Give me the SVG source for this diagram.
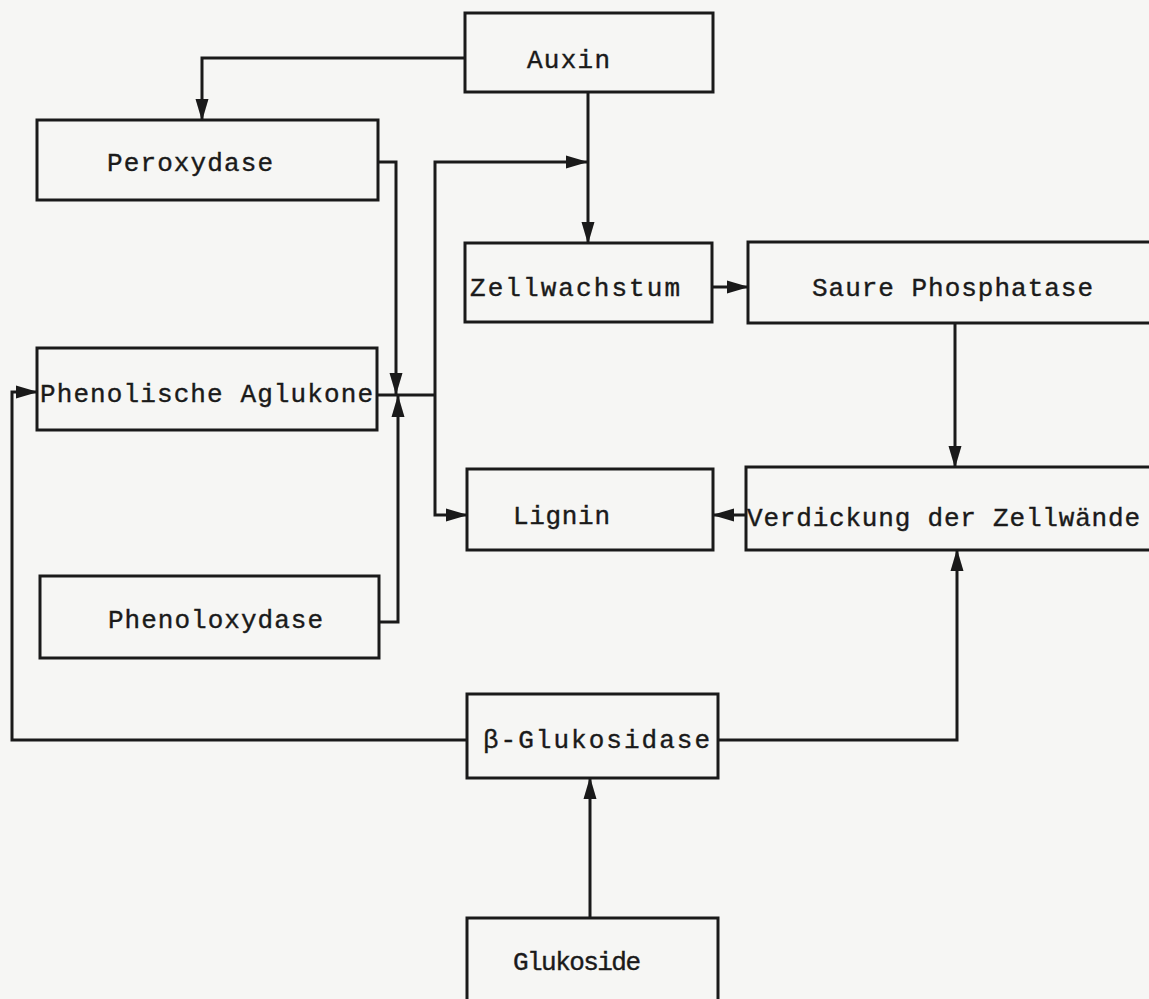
<svg xmlns="http://www.w3.org/2000/svg" width="1149" height="999" viewBox="0 0 1149 999">
<style>
.box{fill:none;stroke:#1a1a1a;stroke-width:3}
.lbl{font-family:"Liberation Mono","DejaVu Sans Mono",monospace;font-size:26px;fill:#1a1a1a;stroke:#1a1a1a;stroke-width:0.4}
.con{fill:none;stroke:#1a1a1a;stroke-width:3}
</style>
<defs>
<marker id="ah" markerUnits="userSpaceOnUse" markerWidth="22" markerHeight="16" refX="21" refY="8" orient="auto">
<path d="M0,1.5 L22,8 L0,14.5 Z" fill="#1a1a1a"/>
</marker>
</defs>
<rect width="1149" height="999" fill="#f6f6f4"/>
<g id="auxin"><rect class="box" x="465" y="13" width="248" height="79"/><text class="lbl" x="527" y="68" textLength="83" lengthAdjust="spacing">Auxin</text></g>
<g id="peroxydase"><rect class="box" x="37" y="120" width="341" height="80"/><text class="lbl" x="107" y="171" textLength="166" lengthAdjust="spacing">Peroxydase</text></g>
<g id="zellwachstum"><rect class="box" x="465" y="243" width="247" height="79"/><text class="lbl" x="470" y="296" textLength="210" lengthAdjust="spacing">Zellwachstum</text></g>
<g id="saure"><rect class="box" x="748" y="242" width="420" height="81"/><text class="lbl" x="812" y="296" textLength="281" lengthAdjust="spacing">Saure Phosphatase</text></g>
<g id="aglukone"><rect class="box" x="37" y="348" width="340" height="82"/><text class="lbl" x="40" y="402" textLength="333" lengthAdjust="spacing">Phenolische Aglukone</text></g>
<g id="lignin"><rect class="box" x="467" y="469" width="246" height="81"/><text class="lbl" x="513" y="524" textLength="97" lengthAdjust="spacing">Lignin</text></g>
<g id="verdickung"><rect class="box" x="746" y="467" width="420" height="83"/><text class="lbl" x="747" y="526" textLength="393" lengthAdjust="spacing">Verdickung der Zellwände</text></g>
<g id="phenoloxydase"><rect class="box" x="40" y="576" width="339" height="82"/><text class="lbl" x="108" y="628" textLength="215" lengthAdjust="spacing">Phenoloxydase</text></g>
<g id="glukosidase"><rect class="box" x="467" y="694" width="251" height="84"/><text class="lbl" x="483" y="748" textLength="227" lengthAdjust="spacing">β-Glukosidase</text></g>
<g id="glukoside"><rect class="box" x="467" y="918" width="251" height="90"/><text class="lbl" x="513" y="970" textLength="128" lengthAdjust="spacing">Glukoside</text></g>
<g id="connectors">
<path class="con" d="M465,58 H202 V120" marker-end="url(#ah)"/>
<path class="con" d="M588,92 V243" marker-end="url(#ah)"/>
<path class="con" d="M378,162 H396 V394" marker-end="url(#ah)"/>
<path class="con" d="M379,622 H398 V396" marker-end="url(#ah)"/>
<path class="con" d="M377,395 H435"/>
<path class="con" d="M435,395 V162 H587" marker-end="url(#ah)"/>
<path class="con" d="M435,395 V515 H467" marker-end="url(#ah)"/>
<path class="con" d="M712,287 H748" marker-end="url(#ah)"/>
<path class="con" d="M955,323 V467" marker-end="url(#ah)"/>
<path class="con" d="M746,515 H713" marker-end="url(#ah)"/>
<path class="con" d="M467,740 H12 V392 H37" marker-end="url(#ah)"/>
<path class="con" d="M718,740 H957 V550" marker-end="url(#ah)"/>
<path class="con" d="M590,918 V778" marker-end="url(#ah)"/>
</g>
</svg>
